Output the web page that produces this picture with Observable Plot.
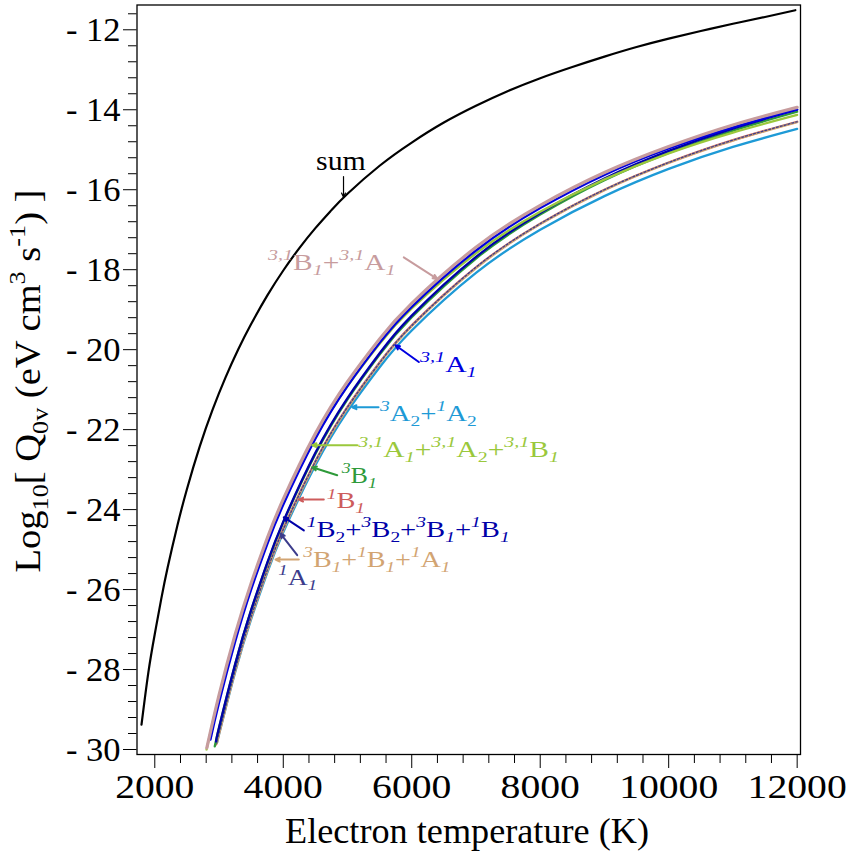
<!DOCTYPE html>
<html><head><meta charset="utf-8">
<script src="https://cdn.jsdelivr.net/npm/d3@7"></script>
<script src="https://cdn.jsdelivr.net/npm/@observablehq/plot@0.6"></script>
<style>
html,body{margin:0;padding:0;background:#fff;}
#chart svg{display:block;}
</style></head><body><div id="chart"></div>
<script>
// ---------- data ----------
const sumT = [1793,1900,2000,2100,2200,2350,2500,2700,2900,3100,3300,3500,3750,4000,4250,4500,4750,5000,5500,6000,6500,7000,7500,8000,8500,9000,9500,10000,10500,11000,11500,11972];
const sumV = [-29.38,-28.07,-27.11,-26.24,-25.45,-24.41,-23.49,-22.42,-21.50,-20.70,-19.99,-19.36,-18.65,-18.02,-17.46,-16.96,-16.51,-16.10,-15.40,-14.82,-14.32,-13.90,-13.53,-13.21,-12.93,-12.67,-12.43,-12.22,-12.03,-11.85,-11.68,-11.51];

const bundleT = [3000,3250,3500,3750,4000,4500,5000,5500,6000,7000,8000,9000,10000,11000,12000];
// drawing order (bottom to top)
const seriesKeys   = ["A2","B1r","tan","A1s","B1g","B2","yg","A1b","rosy"];
const seriesColors = ["#1e9ad6","#cd5c5c","#d2a472","#3c3c8c","#2e9a3a","#0000a8","#9ac83c","#0000e0","#c79c9e"];
const seriesStartT = [2981,2960,2981,2970,2934,2950,2806,2867,2810];
const seriesStartV = [-29.75,-29.85,-29.75,-29.80,-29.92,-29.80,-30.00,-29.75,-29.96];
const vA2   = [-29.62,-28.07,-26.74,-25.58,-24.57,-22.89,-21.54,-20.44,-19.52,-18.08,-17.00,-16.16,-15.48,-14.93,-14.48];
const vB1r  = [-29.58,-28.01,-26.67,-25.50,-24.48,-22.79,-21.43,-20.32,-19.39,-17.94,-16.85,-16.00,-15.32,-14.76,-14.30];
const vTan  = [-29.62,-28.05,-26.70,-25.54,-24.52,-22.82,-21.46,-20.34,-19.41,-17.96,-16.86,-16.01,-15.33,-14.77,-14.31];
const vA1s  = [-29.59,-28.03,-26.68,-25.52,-24.50,-22.80,-21.44,-20.33,-19.40,-17.94,-16.85,-16.00,-15.32,-14.76,-14.30];
const vB1g  = [-29.46,-27.88,-26.52,-25.35,-24.32,-22.61,-21.24,-20.12,-19.19,-17.72,-16.62,-15.76,-15.08,-14.52,-14.05];
const vB2   = [-29.45,-27.87,-26.51,-25.33,-24.30,-22.58,-21.21,-20.09,-19.15,-17.68,-16.58,-15.72,-15.03,-14.47,-14.00];
const vYg   = [-28.66,-27.17,-25.89,-24.78,-23.82,-22.20,-20.91,-19.85,-18.97,-17.59,-16.55,-15.74,-15.09,-14.57,-14.13];
const vA1b  = [-28.83,-27.31,-26.00,-24.87,-23.88,-22.23,-20.91,-19.83,-18.93,-17.52,-16.46,-15.63,-14.97,-14.44,-13.99];
const vRosy = [-28.64,-27.13,-25.84,-24.72,-23.74,-22.10,-20.80,-19.73,-18.84,-17.44,-16.39,-15.57,-14.92,-14.38,-13.94];
const seriesValues = [vA2,vB1r,vTan,vA1s,vB1g,vB2,vYg,vA1b,vRosy];

// annotations (label markup, label anchor in data units, arrow tail -> tip)
const labelText  = ["sum","^{3,1}B_{1}+^{3,1}A_{1}","^{3,1}A_{1}","^{3}A_{2}+^{1}A_{2}","^{3,1}A_{1}+^{3,1}A_{2}+^{3,1}B_{1}","^{3}B_{1}","^{1}B_{1}","^{1}B_{2}+^{3}B_{2}+^{3}B_{1}+^{1}B_{1}","^{3}B_{1}+^{1}B_{1}+^{1}A_{1}","^{1}A_{1}"];
const labelColor = ["#000000","#c79c9e","#0000e0","#1e9ad6","#9ac83c","#2e9a3a","#cd5c5c","#0000a8","#d2a472","#3c3c8c"];
const labelT     = [4518,3771,6136,5514,5176,4917,4684,4373,4320,3931];
const labelV     = [-15.52,-18.02,-20.56,-21.79,-22.69,-23.35,-23.98,-24.69,-25.44,-25.89];
const arrowT1 = [4938,5876,6110,5483,5151,4840,4631,4320,4242,4217];
const arrowV1 = [-15.67,-17.69,-20.31,-21.44,-22.39,-23.14,-23.75,-24.52,-25.25,-25.14];
const arrowT2 = [4938,6396,5747,5073,4451,4451,4242,4008,3879,3957];
const arrowV2 = [-16.19,-18.23,-19.89,-21.44,-22.39,-22.94,-23.75,-24.19,-25.25,-24.60];

// axes
const xMajor = [2000,4000,6000,8000,10000,12000];
const xMajorLabels = ["2000","4000","6000","8000","10000","12000"];
const xMinor = [2400,2800,3200,3600,4400,4800,5200,5600,6400,6800,7200,7600,8400,8800,9200,9600,10400,10800,11200,11600];
const yMajor = [-30,-28,-26,-24,-22,-20,-18,-16,-14,-12];
const yMajorLabels = ["- 30","- 28","- 26","- 24","- 22","- 20","- 18","- 16","- 14","- 12"];
const yMinor = [-29.6,-29.2,-28.8,-28.4,-27.6,-27.2,-26.8,-26.4,-25.6,-25.2,-24.8,-24.4,-23.6,-23.2,-22.8,-22.4,-21.6,-21.2,-20.8,-20.4,-19.6,-19.2,-18.8,-18.4,-17.6,-17.2,-16.8,-16.4,-15.6,-15.2,-14.8,-14.4,-13.6,-13.2,-12.8,-12.4,-11.6];

// ---------- build tables ----------
const sumData = sumT.map((t,i)=>({T:t, v:sumV[i]}));
const bundles = seriesKeys.map((k,j)=>{
  const rows = [{T:seriesStartT[j], v:seriesStartV[j]}];
  bundleT.forEach((t,i)=>rows.push({T:t, v:seriesValues[j][i]}));
  return rows;
});
const arrows = labelText.map((_,i)=>({x1:arrowT1[i],y1:arrowV1[i],x2:arrowT2[i],y2:arrowV2[i],c:labelColor[i],w:i===0?1.2:2}));

const lineMarks = bundles.map((rows,j)=>Plot.line(rows,{
  x:"T", y:"v", stroke:seriesColors[j], curve:"natural",
  strokeWidth: seriesKeys[j]==="rosy" ? 3.2 : (seriesKeys[j]==="A1s" ? 1.3 : 2.3),
  strokeDasharray: seriesKeys[j]==="A1s" ? "2,2" : null
}));

const chart = Plot.plot({
  width: 856, height: 858,
  marginLeft: 136.5, marginRight: 56, marginTop: 4.5, marginBottom: 104,
  x: {domain: [1723, 12052]},
  y: {domain: [-30.125, -11.38]},
  style: {fontFamily: "'Liberation Serif', 'Times New Roman', serif", background: "white", color: "black"},
  marks: [
    Plot.axisX({ticks: xMajor, tickSize: 14, tickPadding: 5, tickFormat: d => xMajorLabels[xMajor.indexOf(d)], label: null, fontSize: 34.5}),
    Plot.axisX({ticks: xMinor, tickSize: 9, tickFormat: () => "", label: null}),
    Plot.axisY({ticks: yMajor, tickSize: 13.5, tickPadding: 3, tickFormat: d => yMajorLabels[yMajor.indexOf(d)], label: null, fontSize: 34.5}),
    Plot.axisY({ticks: yMinor, tickSize: 8.5, tickFormat: () => "", label: null}),
    Plot.frame({stroke: "black", strokeWidth: 1.3}),
    Plot.line(sumData, {x:"T", y:"v", stroke:"black", strokeWidth:2.2, curve:"natural"}),
    ...lineMarks,
    Plot.arrow(arrows, {x1:"x1", y1:"y1", x2:"x2", y2:"y2", stroke: "c", strokeWidth: "w", headLength: 7, headAngle: 50})
  ]
});
document.getElementById("chart").appendChild(chart);

const svg = d3.select(chart);
svg.selectAll('g[aria-label="x-axis tick label"]').attr("font-size", 34.5);
svg.selectAll('g[aria-label="y-axis tick label"]').attr("font-size", 34.5);
svg.selectAll('g[aria-label="x-axis tick label"] text').each(function(){
  const t = this.getAttribute("transform") || "";
  this.setAttribute("transform", t + " scale(1.15,1)");
});

function rich(parent, markup, size, italicScripts) {
  const text = parent.append("text").style("white-space","pre").attr("text-anchor","start");
  let offset = 0;
  const re = /\^\{([^}]*)\}|_\{([^}]*)\}|([^\^_]+)/g;
  let m;
  while ((m = re.exec(markup))) {
    let str, target, fs, ital = false;
    if (m[1] !== undefined) { str = m[1]; target = -0.42*size; fs = 0.68*size; ital = italicScripts; }
    else if (m[2] !== undefined) { str = m[2]; target = 0.22*size; fs = 0.68*size; ital = italicScripts && str === "1"; }
    else { str = m[3]; target = 0; fs = size; }
    text.append("tspan").attr("dy", target - offset).attr("font-size", fs)
      .attr("font-style", ital ? "italic" : "normal").text(str);
    offset = target;
  }
  return text;
}

const xs = chart.scale("x"), ys = chart.scale("y");
const labelSize = [28,23,23,23,23,23,23,23,23,23];
const labelWidth = [50,128.7,58,98,202,36.3,38.3,203,148.4,38.7];
const gl = svg.append("g").attr("font-family","'Liberation Serif', 'Times New Roman', serif").attr("text-anchor","start");
labelText.forEach((s,i)=>{
  const t = rich(gl, s, labelSize[i], true).attr("fill", labelColor[i]);
  const w = t.node().getBBox().width;
  t.attr("transform", `translate(${xs.apply(labelT[i])},${ys.apply(labelV[i])}) scale(${labelWidth[i]/w},1)`);
});

// axis titles
const xt = rich(gl, "Electron temperature (K)", 35, false).attr("text-anchor","middle");
const xw = xt.node().getBBox().width;
xt.attr("transform", `translate(467,843) scale(${364/xw},1)`);
const yt = rich(gl, "Log_{10}[ Q_{0v} (eV cm^{3} s^{-1}) ]", 35, false).attr("text-anchor","middle");
const yw = yt.node().getBBox().width;
yt.attr("transform", `translate(40,381) rotate(-90) scale(${383/yw},1)`);
</script></body></html>
